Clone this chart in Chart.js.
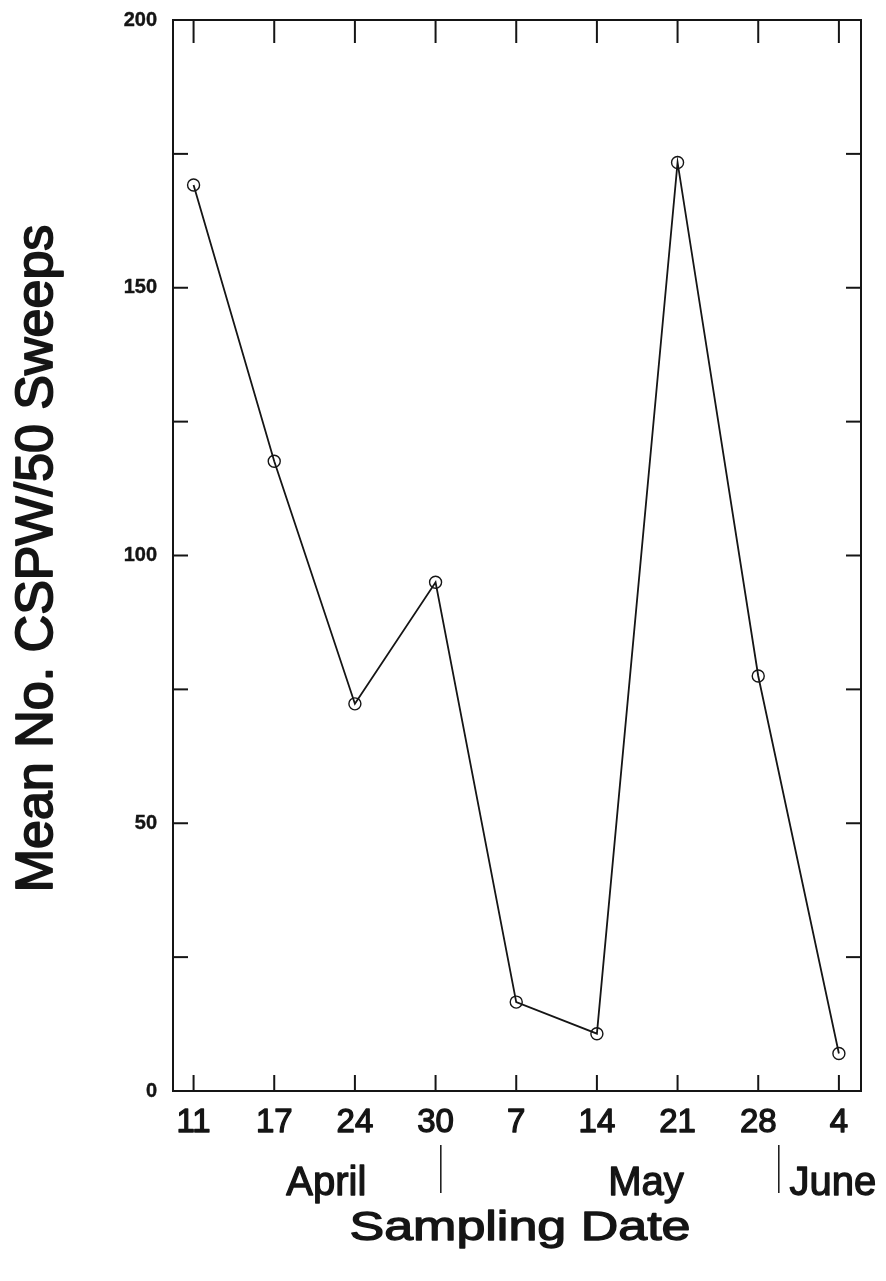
<!DOCTYPE html>
<html>
<head>
<meta charset="utf-8">
<title>Mean No. CSPW/50 Sweeps</title>
<script src="https://cdn.jsdelivr.net/npm/chart.js@4.4.1/dist/chart.umd.min.js"></script>
<style>
html, body { margin: 0; padding: 0; background: #fff; }
canvas { display: block; }
</style>
</head>
<body>
<canvas id="chart" width="886" height="1281"></canvas>
<script>
// sampling dates (day of month), April 11 through June 4
const dayLabels = ['11', '17', '24', '30', '7', '14', '21', '28', '4'];
const meanCounts = [169.2, 117.6, 72.3, 95.0, 16.6, 10.7, 173.4, 77.5, 7.0];

const yMajorTicks = [0, 50, 100, 150, 200];
const yMinorTicks = [25, 75, 125, 175];

// month names sit under the day labels, split by short bars
const monthNames = ['April', 'May', 'June'];
const monthCenters = [1.646, 5.609, 7.925];
const monthBreaks = [3.065, 7.255];

const ink = '#151515';
const fontFamily = '"Liberation Sans", Arial, Helvetica, sans-serif';

const drawText = (ctx, text, x, y, size, opts = {}) => {
    ctx.save();
    ctx.font = `${opts.weight || 'normal'} ${size}px ${fontFamily}`;
    ctx.fillStyle = ink;
    ctx.strokeStyle = ink;
    ctx.lineWidth = opts.thicken || 0;
    ctx.lineJoin = 'round';
    ctx.textAlign = opts.align || 'center';
    ctx.textBaseline = opts.baseline || 'alphabetic';
    ctx.translate(x, y);
    if (opts.rotate) ctx.rotate(opts.rotate);
    if (opts.stretch) ctx.scale(opts.stretch, 1);
    ctx.fillText(text, 0, 0);
    if (opts.thicken) ctx.strokeText(text, 0, 0);
    ctx.restore();
};

const line = (ctx, x1, y1, x2, y2, width) => {
    ctx.beginPath();
    ctx.lineWidth = width;
    ctx.moveTo(x1, y1);
    ctx.lineTo(x2, y2);
    ctx.stroke();
};

// box frame with inward ticks, plus all axis text
const framePlugin = {
    id: 'frame',
    afterDraw(chart) {
        const { ctx, chartArea: area, scales: { x, y } } = chart;
        ctx.save();
        ctx.strokeStyle = ink;
        ctx.lineWidth = 2;
        ctx.strokeRect(area.left, area.top, area.right - area.left, area.bottom - area.top);

        dayLabels.forEach((day, i) => {
            const px = x.getPixelForValue(i);
            line(ctx, px, area.top, px, area.top + 23, 2);
            line(ctx, px, area.bottom, px, area.bottom - 16, 2);
            drawText(ctx, day, px, area.bottom + 41, 33, { thicken: 1.3 });
        });

        [...yMajorTicks, ...yMinorTicks].forEach(v => {
            if (v === 0 || v === 200) return;
            const py = y.getPixelForValue(v);
            line(ctx, area.left, py, area.left + 15, py, 2);
            line(ctx, area.right, py, area.right - 15, py, 2);
        });

        yMajorTicks.forEach(v => {
            drawText(ctx, String(v), area.left - 16, y.getPixelForValue(v), 20, {
                weight: 'bold', align: 'right', baseline: 'middle', thicken: 0.4
            });
        });

        monthNames.forEach((name, i) => {
            drawText(ctx, name, x.getPixelForValue(monthCenters[i]), area.bottom + 104, 40, { thicken: 1.3 });
        });
        monthBreaks.forEach(v => {
            const px = x.getPixelForValue(v);
            line(ctx, px, area.bottom + 54, px, area.bottom + 102, 1.5);
        });

        drawText(ctx, 'Sampling Date', (area.left + area.right) / 2 + 3, 1240, 40, { stretch: 1.3, thicken: 1.3 });
        drawText(ctx, 'Mean No. CSPW/50 Sweeps', 52, (area.top + area.bottom) / 2 + 3, 52, {
            rotate: -Math.PI / 2, thicken: 1.8
        });
        ctx.restore();
    }
};

new Chart(document.getElementById('chart'), {
    type: 'line',
    data: {
        datasets: [{
            data: meanCounts.map((v, i) => ({ x: i, y: v })),
            borderColor: ink,
            borderWidth: 1.8,
            tension: 0,
            pointRadius: 6,
            pointBorderWidth: 1.4,
            pointBorderColor: ink,
            pointBackgroundColor: 'rgba(0,0,0,0)',
            clip: false
        }]
    },
    options: {
        responsive: false,
        animation: false,
        devicePixelRatio: 1,
        layout: { padding: { left: 173, right: 25, top: 20, bottom: 190 } },
        plugins: { legend: { display: false }, tooltip: { enabled: false } },
        scales: {
            x: { type: 'linear', min: -0.255, max: 8.274, display: false },
            y: { min: 0, max: 200, display: false }
        }
    },
    plugins: [framePlugin]
});
</script>
</body>
</html>
